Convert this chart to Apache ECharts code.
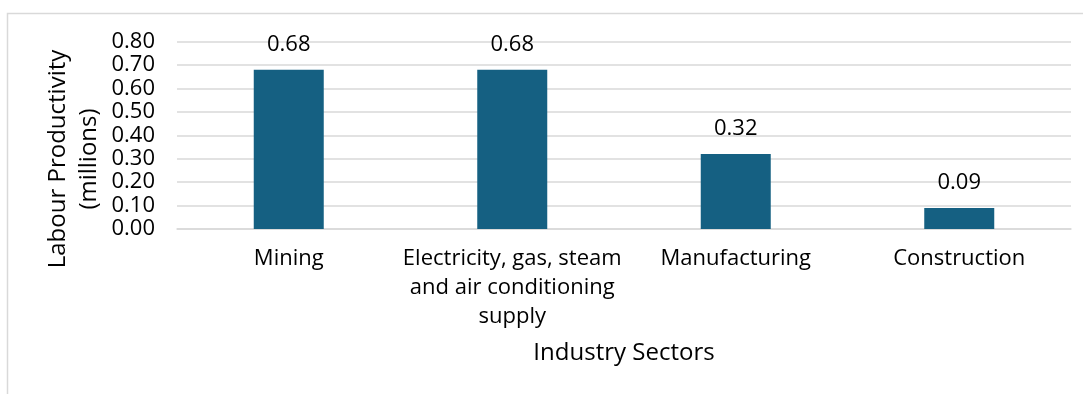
<!DOCTYPE html>
<html>
<head>
<meta charset="utf-8">
<script src="https://cdn.jsdelivr.net/npm/echarts@6/dist/echarts.min.js"></script>
<style>
  html, body { margin: 0; padding: 0; background: #fff; }
  #chart { width: 1083px; height: 394px; }
</style>
</head>
<body>
<div id="chart"></div>
<script>
// Labour productivity by industry sector (millions)
const sectors = [
  'Mining',
  'Electricity, gas, steam\nand air conditioning\nsupply',
  'Manufacturing',
  'Construction'
];
const productivity = [0.68, 0.68, 0.32, 0.09];
const yTicks = { min: 0, max: 0.8, step: 0.1 };
const yTitle = 'Labour Productivity\n(millions)';
const xTitle = 'Industry Sectors';

const FONT = '"Open Sans", "Liberation Sans", sans-serif';
const TEXT = '#000000';
const GRID = '#d9d9d9';

const chart = echarts.init(document.getElementById('chart'), null, { renderer: 'canvas' });

chart.setOption({
  animation: false,
  backgroundColor: '#ffffff',
  textStyle: { fontFamily: FONT, color: TEXT },
  graphic: [
    {
      // outer chart frame
      type: 'rect',
      shape: { x: 7.5, y: 13.5, width: 1110, height: 420 },
      style: { fill: 'none', stroke: GRID, lineWidth: 1.5 },
      silent: true,
      z: -10
    },
    {
      // vertical axis title, centred on the chart's left band
      type: 'text',
      x: 74,
      y: 159,
      rotation: Math.PI / 2,
      style: {
        text: yTitle,
        fontFamily: FONT,
        fontSize: 24,
        lineHeight: 31,
        fill: TEXT,
        align: 'center',
        verticalAlign: 'middle'
      },
      silent: true
    }
  ],
  grid: { left: 177, right: 12, top: 41.7, bottom: 165, containLabel: false },
  xAxis: {
    type: 'category',
    data: sectors,
    name: xTitle,
    nameLocation: 'middle',
    nameGap: 110,
    nameTextStyle: { fontFamily: FONT, fontSize: 24, color: TEXT, lineHeight: 28 },
    axisLine: { show: true, lineStyle: { color: GRID, width: 1.5 } },
    axisTick: { show: false },
    axisLabel: {
      interval: 0,
      margin: 15,
      fontFamily: FONT,
      fontSize: 22,
      lineHeight: 29,
      color: TEXT,
      align: 'center'
    }
  },
  yAxis: {
    type: 'value',
    min: yTicks.min,
    max: yTicks.max,
    interval: yTicks.step,
    axisLine: { show: false },
    axisTick: { show: false },
    splitLine: { lineStyle: { color: GRID, width: 1.5 } },
    axisLabel: {
      margin: 22,
      fontFamily: FONT,
      fontSize: 22,
      color: TEXT,
      formatter: v => v.toFixed(2)
    }
  },
  series: [{
    type: 'bar',
    data: productivity,
    barWidth: 70,
    itemStyle: { color: '#156082' },
    label: {
      show: true,
      position: 'top',
      distance: 14,
      fontFamily: FONT,
      fontSize: 22,
      color: TEXT,
      formatter: p => p.value.toFixed(2)
    }
  }]
});
</script>
</body>
</html>
